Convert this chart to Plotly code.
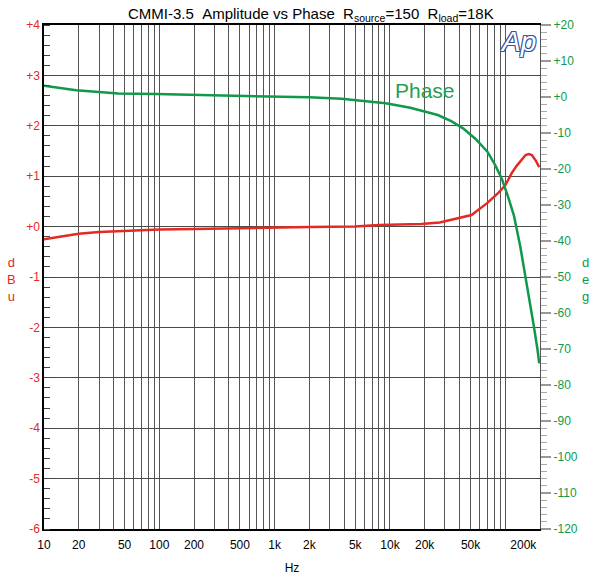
import numpy as np
import plotly.graph_objects as go

# ---- data ----
freq_amp = [10, 15, 20, 30, 50, 70, 100, 200, 500, 1000, 2000, 5000, 8000, 12000,
            18700, 27000, 39000, 51000, 70000, 87000, 100000, 113000, 125000,
            138000, 150000, 160000, 170000, 185000, 197000]
amp_dbu = [-0.25, -0.18, -0.14, -0.105, -0.08, -0.07, -0.06, -0.05, -0.03, -0.02,
           -0.01, 0.0, 0.03, 0.04, 0.05, 0.08, 0.17, 0.23, 0.47, 0.67, 0.82, 1.05,
           1.2, 1.32, 1.42, 1.44, 1.42, 1.3, 1.18]

freq_ph = [10, 15, 19, 30, 44, 93, 200, 400, 1000, 2000, 3800, 9200, 15000, 21000,
           26000, 34000, 43000, 55000, 70000, 82000, 94000, 106000, 119000, 135000,
           157000, 175000, 190000, 197000]
phase_deg = [3.1, 2.4, 1.9, 1.4, 1.0, 0.8, 0.55, 0.36, 0.15, -0.1, -0.5, -1.75, -3.0,
             -4.2, -5.0, -6.7, -8.7, -11.6, -15.2, -19.0, -23.0, -27.8, -33.0, -41.6,
             -53.6, -62.8, -70.0, -74.0]

x_tick_vals = [10, 20, 50, 100, 200, 500, 1000, 2000, 5000, 10000, 20000, 50000, 200000]
x_tick_text = ["10", "20", "50", "100", "200", "500", "1k", "2k", "5k", "10k", "20k", "50k", "200k"]

dbu_ticks = list(range(-6, 5))
dbu_text = [("+%d" % v if v >= 0 else "%d" % v) for v in dbu_ticks]
deg_ticks = list(range(-120, 21, 10))
deg_text = [("+%d" % v if v >= 0 else "%d" % v) for v in deg_ticks]

RED = "#e42b23"
GREEN = "#10994a"
FONT = "Liberation Sans, Arial, sans-serif"
NB = "\u00a0"

# grid positions (1..9 per decade)
grid_vals = []
for d in range(1, 6):
    for m in range(1, 10):
        v = m * 10 ** d
        if v <= 200000:
            grid_vals.append(v)
grid_text = [x_tick_text[x_tick_vals.index(v)] if v in x_tick_vals else "" for v in grid_vals]
# the last label sits just inside the right edge in the reference
grid_text[-1] = grid_text[-1] + NB * 10

fig = go.Figure()
fig.add_trace(go.Scatter(x=freq_amp, y=amp_dbu, mode="lines",
                         line=dict(color=RED, width=2.5), yaxis="y", showlegend=False))
fig.add_trace(go.Scatter(x=freq_ph, y=phase_deg, mode="lines",
                         line=dict(color=GREEN, width=2.5), yaxis="y2", showlegend=False))

W, H = 592, 578
X0, X1, Y0, Y1 = 44, 540, 25, 529   # plot area in window pixels
L, R, T, B = X0, W - X1, Y0, H - Y1
pw, ph = X1 - X0, Y1 - Y0


def px(x):
    return (x - X0) / pw


def py(y):
    return (Y1 - y) / ph


fig.update_layout(
    width=W, height=H,
    margin=dict(l=L, r=R, t=T, b=B, autoexpand=False),
    paper_bgcolor="white", plot_bgcolor="white",
    font=dict(family=FONT, size=12, color="black"),
    xaxis=dict(type="log", range=[1, np.log10(200000)],
               tickvals=grid_vals, ticktext=grid_text, ticks="",
               ticklabelstandoff=4,
               showgrid=True, gridcolor="#555555", gridwidth=1.3,
               showline=True, linecolor="black", linewidth=1.5, mirror=True,
               tickfont=dict(size=12, color="black"),
               title=dict(text="Hz", font=dict(size=12), standoff=12),
               zeroline=False),
    yaxis=dict(range=[-6, 4], tickvals=dbu_ticks, ticktext=dbu_text,
               tickfont=dict(size=12, color=RED), ticks="",
               showgrid=True, gridcolor="#4a4a4a", gridwidth=1.3,
               showline=True, linecolor="black", linewidth=1.5,
               zeroline=False,
               minor=dict(dtick=0.2, ticks="inside", ticklen=6, tickcolor="#444",
                          tickwidth=1.2, showgrid=False)),
    yaxis2=dict(range=[-120, 20], overlaying="y", side="right",
                tickvals=deg_ticks, ticktext=deg_text,
                tickfont=dict(size=12, color=GREEN),
                ticks="outside", ticklen=10, tickcolor="#999", tickwidth=1.5,
                showgrid=False, zeroline=False,
                showline=True, linecolor="#555", linewidth=1.2,
                minor=dict(dtick=2, ticks="outside", ticklen=6, tickcolor="#aaa",
                           tickwidth=1.2, showgrid=False)),
)

title = ("CMMI-3.5" + NB * 2 + "Amplitude vs Phase" + NB * 2 + "R<sub>source</sub>=150"
         + NB * 2 + "R<sub>load</sub>=18K")
ann = [
    dict(text=title, x=px(311), y=py(14), xref="paper", yref="paper",
         xanchor="center", yanchor="middle", showarrow=False,
         font=dict(size=15, color="black", family=FONT)),
    dict(text="d<br>B<br>u", x=px(11), y=py(279), xref="paper", yref="paper",
         xanchor="center", yanchor="middle", showarrow=False,
         font=dict(size=13, color=RED, family=FONT)),
    dict(text="d<br>e<br>g", x=px(585), y=py(279), xref="paper", yref="paper",
         xanchor="center", yanchor="middle", showarrow=False,
         font=dict(size=13, color=GREEN, family=FONT)),
    dict(text="Phase", x=px(425), y=py(91), xref="paper", yref="paper",
         xanchor="center", yanchor="middle", showarrow=False,
         font=dict(size=21, color="#1ea24e", family=FONT)),
    dict(text="<i>Ap</i>", x=px(518), y=py(41), xref="paper", yref="paper",
         xanchor="center", yanchor="middle", showarrow=False,
         font=dict(size=28, color="white", family=FONT,
                   shadow="-1px -1px 0 #3552a5, 1px -1px 0 #3552a5, -1px 1px 0 #3552a5, 1px 1px 0 #3552a5")),
]
fig.update_layout(annotations=ann)

# remove the browser's default 8px page margin so the 592x578 figure fills the window
fig.write_html("out.html",
               config={"displayModeBar": False},
               post_script="document.body.style.margin='0';document.body.style.overflow='hidden';")
